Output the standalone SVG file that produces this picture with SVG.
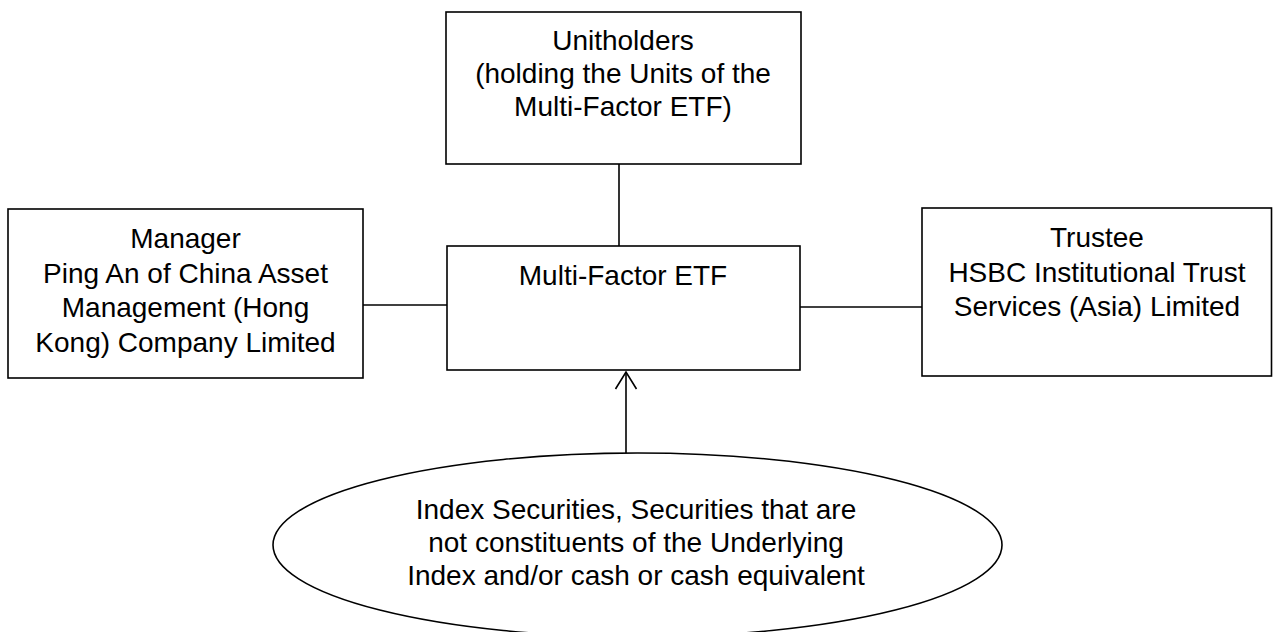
<svg xmlns="http://www.w3.org/2000/svg" width="1273" height="632" viewBox="0 0 1273 632">
<style>
.box{fill:#fff;stroke:#000;stroke-width:1.6}
.ln{fill:none;stroke:#000;stroke-width:1.6}
text{font-family:"Liberation Sans",Arial,sans-serif;font-size:28px;fill:#000;text-anchor:middle}
</style>
<defs>
<marker id="open" viewBox="0 0 20 24" refX="18" refY="12" markerWidth="20" markerHeight="24" markerUnits="userSpaceOnUse" orient="auto">
<path d="M1,1.5 L18,12 L1,22.5" fill="none" stroke="#000" stroke-width="1.6"/>
</marker>
</defs>
<rect width="1273" height="632" fill="#fff"/>
<g id="connectors">
<line class="ln" x1="619" y1="164" x2="619" y2="246"/>
<line class="ln" x1="363" y1="305" x2="447" y2="305"/>
<line class="ln" x1="800" y1="307" x2="922" y2="307"/>
<line class="ln" x1="626" y1="453" x2="626" y2="372" marker-end="url(#open)"/>
</g>
<g id="unitholders">
<rect class="box" x="446" y="12" width="355" height="152"/>
<text x="623" y="50">Unitholders</text>
<text x="623" y="83">(holding the Units of the</text>
<text x="623" y="116">Multi-Factor ETF)</text>
</g>
<g id="manager">
<rect class="box" x="8" y="209" width="355" height="169"/>
<text x="185.5" y="248">Manager</text>
<text x="185.5" y="283">Ping An of China Asset</text>
<text x="185.5" y="317">Management (Hong</text>
<text x="185.5" y="352">Kong) Company Limited</text>
</g>
<g id="etf">
<rect class="box" x="447" y="246" width="353" height="124"/>
<text x="623" y="285">Multi-Factor ETF</text>
</g>
<g id="trustee">
<rect class="box" x="922" y="208" width="349.5" height="168"/>
<text x="1097" y="247">Trustee</text>
<text x="1097" y="281.5">HSBC Institutional Trust</text>
<text x="1097" y="316">Services (Asia) Limited</text>
</g>
<g id="securities">
<ellipse class="box" cx="637.5" cy="545" rx="364.5" ry="92"/>
<text x="636" y="519">Index Securities, Securities that are</text>
<text x="636" y="552">not constituents of the Underlying</text>
<text x="636" y="585">Index and/or cash or cash equivalent</text>
</g>
</svg>
